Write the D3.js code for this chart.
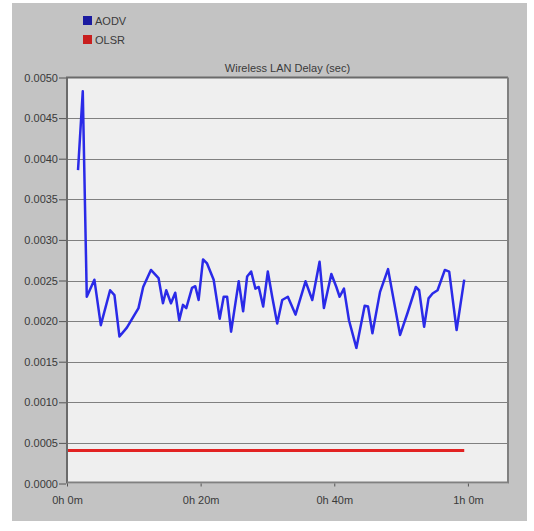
<!DOCTYPE html>
<html>
  <head>
    <meta charset="utf-8">
    <title>Wireless LAN Delay</title>
<style>
body { margin: 0; background: #fff; }
svg text { font-family: "Liberation Sans", Arial, sans-serif; fill: #3a3a3a; }
.grid line { stroke: #808080; stroke-width: 1.2px; }
</style>
	<script src="https://d3js.org/d3.v7.min.js"></script>
  </head>
  <body>
	<script type="text/javascript">

		// AODV delay samples (minutes, seconds of delay)
		var aodvTime = [1.65, 2.36, 2.96, 4.10, 5.06, 6.45, 7.10, 7.85, 8.96, 10.70,
			11.40, 12.56, 13.70, 14.36, 14.85, 15.56, 16.20, 16.80, 17.36, 17.85,
			18.71, 19.20, 19.70, 20.36, 20.96, 21.95, 22.85, 23.45, 23.96, 24.56,
			25.70, 26.36, 26.96, 27.56, 28.20, 28.70, 29.36, 30.05, 30.71, 31.46,
			32.21, 33.05, 34.20, 35.70, 36.71, 37.80, 38.45, 39.56, 40.31, 40.80,
			41.45, 42.20, 43.31, 44.55, 45.05, 45.71, 46.85, 48.05, 49.85, 50.96,
			52.20, 52.70, 53.45, 54.11, 54.71, 55.46, 56.55, 57.20, 58.31, 59.45];
		var aodvDelay = [0.00386, 0.00483, 0.00230, 0.00251, 0.00195, 0.00238, 0.00232, 0.00181, 0.00192, 0.00216,
			0.00242, 0.00263, 0.00253, 0.00222, 0.00238, 0.00222, 0.00235, 0.00201, 0.00220, 0.00216,
			0.00241, 0.00243, 0.00226, 0.00276, 0.00271, 0.00251, 0.00203, 0.00230, 0.00230, 0.00187,
			0.00249, 0.00212, 0.00255, 0.00261, 0.00240, 0.00242, 0.00218, 0.00261, 0.00230, 0.00197,
			0.00226, 0.00230, 0.00208, 0.00249, 0.00226, 0.00273, 0.00216, 0.00258, 0.00242, 0.00230,
			0.00240, 0.00201, 0.00167, 0.00219, 0.00218, 0.00185, 0.00236, 0.00264, 0.00183, 0.00210,
			0.00242, 0.00238, 0.00193, 0.00228, 0.00234, 0.00238, 0.00263, 0.00261, 0.00189, 0.00251];

		// OLSR delay (flat)
		var olsrTime = [0.15, 15, 30, 45, 59.45];
		var olsrDelay = [0.000405, 0.000405, 0.000405, 0.000405, 0.000405];

		var seriesNames = ["AODV", "OLSR"];
		var seriesColors = ["#2a2ae8", "#e22222"];
		var xTicks = [0, 20, 40, 60];
		var xTickLabels = ["0h 0m", "0h 20m", "0h 40m", "1h 0m"];
		var yTicks = [0, 0.0005, 0.001, 0.0015, 0.002, 0.0025, 0.003, 0.0035, 0.004, 0.0045, 0.005];
		var title = "Wireless LAN Delay (sec)";

		var W = 534, H = 531;
		var plot = {left: 67, right: 508, top: 77.5, bottom: 483.5};

		var svg = d3.select("body").append("svg")
			.attr("width", W)
			.attr("height", H);

		// grey panel
		svg.append("rect")
			.attr("x", 12).attr("y", 3)
			.attr("width", 515).attr("height", 518)
			.attr("fill", "#c3c3c3");

		var x = d3.scaleLinear().domain([0, 66]).range([plot.left, plot.right]);
		var y = d3.scaleLinear().domain([0, 0.005]).range([plot.bottom, plot.top]);

		// plot area
		svg.append("rect")
			.attr("x", plot.left).attr("y", plot.top)
			.attr("width", plot.right - plot.left).attr("height", plot.bottom - plot.top)
			.attr("fill", "#efefef");

		// horizontal grid
		svg.append("g")
			.attr("class", "grid")
			.selectAll("line")
			.data(yTicks.slice(1, -1))
			.enter().append("line")
			.attr("x1", plot.left).attr("x2", plot.right)
			.attr("y1", function(d) { return Math.round(y(d)) + 0.5; })
			.attr("y2", function(d) { return Math.round(y(d)) + 0.5; });

		// frame
		svg.append("path")
			.attr("d", "M" + plot.left + "," + plot.bottom + "V" + plot.top + "H" + plot.right)
			.attr("fill", "none").attr("stroke", "#6a6a6a").attr("stroke-width", 2);
		svg.append("path")
			.attr("d", "M" + plot.left + "," + (plot.bottom - 1) + "H" + plot.right + "V" + plot.top)
			.attr("fill", "none").attr("stroke", "#808080").attr("stroke-width", 2);

		// y axis
		var yAxis = svg.append("g")
			.attr("transform", "translate(" + (plot.left - 1) + ",0)")
			.call(d3.axisLeft(y).tickValues(yTicks).tickFormat(d3.format(".4f")).tickSize(7).tickPadding(1));
		yAxis.select(".domain").remove();
		yAxis.selectAll(".tick line").attr("stroke", "#555");
		yAxis.selectAll(".tick text")
			.style("font-size", "11px")
			.attr("fill", "#3a3a3a");

		// x axis
		var xAxis = svg.append("g")
			.attr("transform", "translate(0," + plot.bottom + ")")
			.call(d3.axisBottom(x).tickValues(xTicks)
				.tickFormat(function(d, i) { return xTickLabels[i]; })
				.tickSize(3).tickPadding(10));
		xAxis.select(".domain").remove();
		xAxis.selectAll(".tick line").attr("stroke", "#555");
		xAxis.selectAll(".tick text")
			.style("font-size", "11px")
			.attr("fill", "#3a3a3a");

		// title
		svg.append("text")
			.attr("x", (plot.left + plot.right) / 2)
			.attr("y", plot.top - 6)
			.attr("text-anchor", "middle")
			.style("font-size", "11px")
			.text(title);

		var line = d3.line()
			.x(function(d) { return x(d[0]); })
			.y(function(d) { return y(d[1]); });

		svg.append("path")
			.datum(d3.zip(olsrTime, olsrDelay))
			.attr("fill", "none")
			.attr("stroke", seriesColors[1])
			.attr("stroke-width", 3)
			.attr("d", line);

		svg.append("path")
			.datum(d3.zip(aodvTime, aodvDelay))
			.attr("fill", "none")
			.attr("stroke", seriesColors[0])
			.attr("stroke-width", 2.5)
			.attr("stroke-linejoin", "round")
			.attr("d", line);

		// legend
		var legend = svg.append("g")
			.selectAll("g")
			.data(seriesNames)
			.enter().append("g")
			.attr("transform", function(d, i) { return "translate(83," + (16 + i * 19) + ")"; });
		legend.append("rect")
			.attr("width", 9).attr("height", 9)
			.attr("fill", function(d, i) { return i === 0 ? "#1a1aa0" : "#c81e1e"; });
		legend.append("text")
			.attr("x", 12).attr("y", 9)
			.style("font-size", "11px")
			.attr("fill", "#4a4a4a")
			.text(function(d) { return d; });

    </script>
  </body>
</html>
